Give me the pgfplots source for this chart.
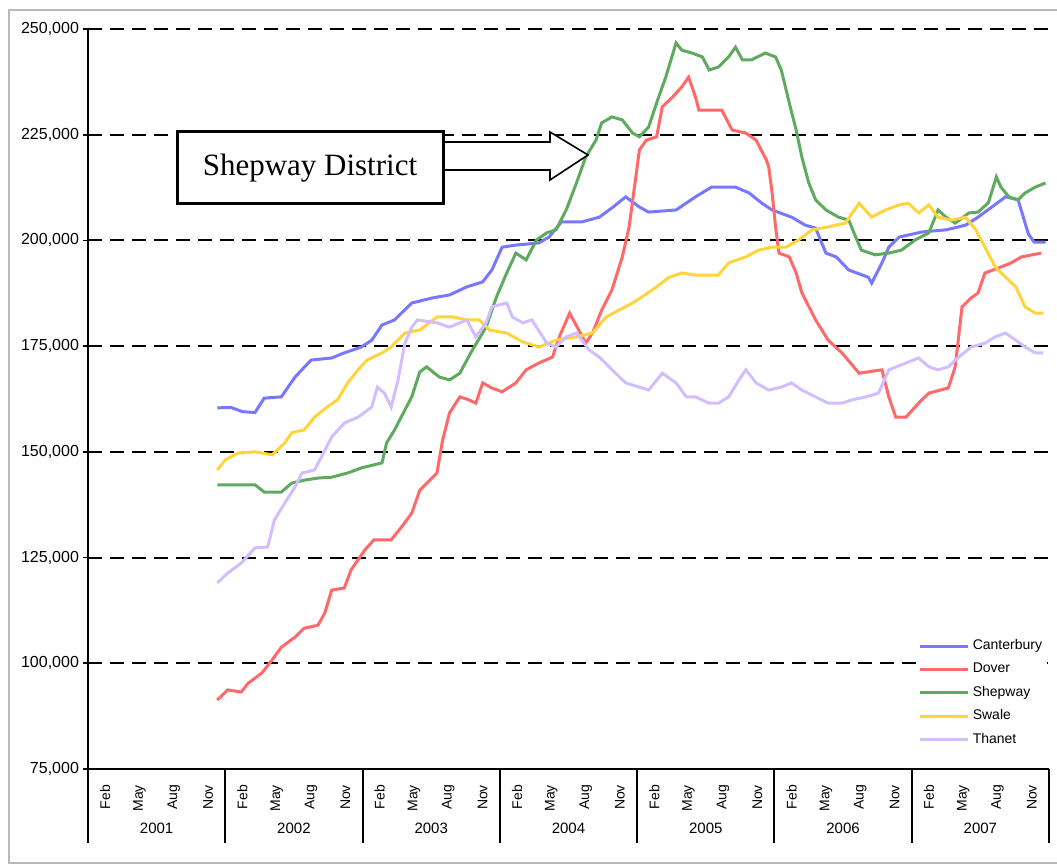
\documentclass[border=0pt]{standalone}
\usepackage{pgfplots}
\pgfplotsset{compat=1.18}
\usepackage{fontspec}
\setmainfont{Liberation Sans}
\newfontfamily\seriffont{Liberation Serif}
\definecolor{cant}{RGB}{120,120,255}
\definecolor{dove}{RGB}{255,105,105}
\definecolor{shep}{RGB}{95,170,95}
\definecolor{swal}{RGB}{255,212,60}
\definecolor{than}{RGB}{210,190,255}
\begin{document}
\begin{tikzpicture}
\begin{axis}[
  width=480.5pt, height=370pt, scale only axis,
  xmin=0.5, xmax=84.5, ymin=75000, ymax=250000,
  axis lines*=left,
  axis line style={line width=1pt, black},
  ytick={75000,100000,125000,150000,175000,200000,225000,250000},
  scaled y ticks=false,
  /pgf/number format/fixed,
  /pgf/number format/1000 sep={,},
  /pgf/number format/assume math mode=true,
  y tick label style={font=\fontsize{8}{9}\selectfont, xshift=1.5pt},
  xtick={2,5,8,11,14,17,20,23,26,29,32,35,38,41,44,47,50,53,56,59,62,65,68,71,74,77,80,83},
  xticklabels={Feb,May,Aug,Nov,Feb,May,Aug,Nov,Feb,May,Aug,Nov,Feb,May,Aug,Nov,Feb,May,Aug,Nov,Feb,May,Aug,Nov,Feb,May,Aug,Nov},
  x tick label style={rotate=90, anchor=east, font=\fontsize{7}{8}\selectfont, xshift=-2pt},
  xtick style={draw=none},
  ytick style={black, line width=0.8pt},
  tick align=center, major tick length=5pt,
  ymajorgrids,
  grid style={black, line width=1pt, dash pattern=on 7pt off 4pt},
  clip=false,
  legend style={at={(rel axis cs:0.862,0.182)}, anchor=north west, draw=none, fill=white,
    font=\fontsize{7}{8}\selectfont, row sep=2.2pt, inner sep=1pt, nodes={inner sep=1.5pt}},
  legend cell align=left,
  legend image code/.code={\draw[#1] (0pt,0pt) -- (24pt,0pt);},
  every axis plot/.append style={line width=1.5pt},
]
\addplot[cant] coordinates {(11.8,160400)(13,160500)(14,159500)(15.1,159300)(15.9,162700)(17.4,163000)(18.6,167700)(20.0,171700)(21.8,172200)(22.9,173400)(24.4,174800)(25.3,176400)(26.2,180000)(27.3,181200)(28.8,185200)(30.6,186400)(32.1,187100)(33.6,189000)(35.0,190200)(35.8,193000)(36.7,198400)(37.9,198900)(39.9,199400)(40.8,200800)(41.9,204400)(43.7,204400)(45.2,205500)(46.3,207700)(47.5,210300)(48.7,207900)(49.5,206700)(51.9,207200)(53.6,210300)(55.0,212600)(57.1,212600)(58.3,211200)(59.4,208800)(60.3,207200)(62.0,205500)(63.2,203600)(64.1,202900)(65.0,197000)(65.9,196100)(67.0,193000)(68.7,191300)(69.0,189900)(69.9,194700)(70.5,198400)(71.4,200800)(73.4,202000)(75.5,202500)(77.2,203600)(78.3,205500)(79.5,207900)(80.7,210300)(81.8,209600)(82.2,206000)(82.7,201500)(83.2,199600)(84.2,199600)};
\addlegendentry{Canterbury}
\addplot[dove] coordinates {(11.8,91300)(12.7,93700)(13.9,93200)(14.5,95300)(15.7,97700)(16.6,100800)(17.4,103800)(18.6,106200)(19.4,108300)(20.6,109000)(21.2,111900)(21.8,117300)(22.9,117800)(23.5,122100)(24.7,126800)(25.5,129200)(27.0,129200)(27.9,132200)(28.8,135500)(29.5,140900)(31.0,145000)(31.5,152800)(32.1,159200)(33.0,163000)(33.8,162300)(34.4,161500)(35.0,166300)(35.8,165100)(36.7,164200)(37.9,166300)(38.8,169400)(39.9,171000)(41.1,172400)(41.7,177200)(42.6,182800)(43.4,178800)(44.0,175700)(44.6,178100)(45.4,183500)(46.3,188300)(47.2,196100)(47.8,203200)(48.7,221400)(49.3,223700)(50.2,224500)(50.7,231600)(51.6,233900)(52.4,236300)(53.0,238600)(53.6,233900)(53.9,230800)(55.9,230800)(56.8,226100)(58.0,225400)(58.9,223700)(59.8,219000)(60.0,217400)(60.3,211200)(60.6,203200)(60.9,197000)(61.8,196100)(62.4,192300)(62.9,187600)(64.1,181200)(65.2,176400)(66.4,173400)(67.9,168600)(69.9,169400)(70.5,163000)(71.1,158200)(72.0,158200)(73.1,161500)(74.0,163900)(75.7,165100)(76.3,170100)(76.9,184300)(77.7,186400)(78.3,187600)(78.9,192300)(80.1,193500)(81.2,194700)(82.1,196100)(83.8,197000)};
\addlegendentry{Dover}
\addplot[shep] coordinates {(11.8,142200)(13.1,142200)(15.1,142200)(15.9,140500)(17.4,140500)(18.3,142600)(19.4,143300)(20.6,143800)(21.8,144000)(23.2,145000)(24.4,146200)(26.2,147400)(26.6,152100)(27.3,155200)(28.2,159900)(28.8,163000)(29.5,168900)(30.1,170100)(31.2,167700)(32.1,167000)(33.0,168600)(34.1,174100)(35.3,179500)(36.2,186600)(37.1,192300)(37.9,197000)(38.8,195400)(39.7,200100)(40.6,201800)(41.4,202500)(42.3,207200)(43.2,213600)(44.0,219700)(44.9,223700)(45.4,227800)(46.3,229200)(47.2,228500)(48.1,225400)(48.7,224500)(49.5,226800)(50.2,232500)(51.0,238600)(51.9,246700)(52.4,245000)(53.3,244300)(54.2,243400)(54.8,240300)(55.6,241000)(56.5,243400)(57.1,245700)(57.7,242700)(58.5,242700)(59.7,244300)(60.6,243400)(61.1,240300)(61.8,232500)(62.4,226100)(62.9,219700)(63.5,213600)(64.1,209600)(65.0,207200)(66.1,205500)(67.0,204800)(67.6,200800)(68.1,197700)(69.3,196600)(70.5,197000)(71.6,197700)(72.8,200100)(74.0,201800)(74.8,207200)(75.5,205500)(76.3,204100)(77.5,206500)(78.3,206700)(79.2,208900)(79.9,215000)(80.3,212600)(81.0,210300)(81.8,209600)(82.4,211200)(83.3,212600)(84.2,213600)};
\addlegendentry{Shepway}
\addplot[swal] coordinates {(11.8,145700)(12.5,148100)(13.6,149700)(15.1,150000)(16.6,149300)(17.7,152100)(18.3,154500)(19.4,155200)(20.3,158200)(21.4,160600)(22.3,162300)(23.2,166300)(24.1,169400)(24.9,171700)(26.2,173400)(27.0,174800)(28.2,178100)(29.5,178800)(31.0,181900)(32.4,181900)(33.6,181200)(34.7,181200)(35.6,178800)(37.1,178100)(38.5,176000)(39.9,174800)(41.4,176400)(43.2,177200)(44.6,178100)(45.8,181900)(46.9,183500)(48.1,185200)(48.9,186600)(50.2,189000)(51.3,191300)(52.4,192300)(53.6,191800)(55.6,191800)(56.5,194700)(58.0,196100)(59.1,197700)(60.3,198400)(61.5,198400)(62.6,200100)(63.8,202500)(65.2,203200)(66.7,204100)(67.9,208800)(69.0,205500)(70.2,207200)(71.4,208400)(72.2,208800)(73.1,206500)(74.0,208400)(74.8,205500)(76.0,204800)(77.2,205500)(78.1,202500)(78.9,198400)(79.8,193700)(80.7,191300)(81.6,189000)(82.4,184300)(83.3,182800)(84.0,182800)};
\addlegendentry{Swale}
\addplot[than] coordinates {(11.8,119000)(12.7,121300)(13.9,123700)(15.1,127300)(16.2,127500)(16.8,133900)(17.7,137900)(18.6,141700)(19.2,145000)(20.3,145700)(20.9,148800)(21.8,153500)(22.9,156800)(24.1,158200)(25.3,160600)(25.8,165300)(26.4,163900)(27.0,160600)(27.6,167000)(28.2,175700)(28.8,179500)(29.3,181200)(31.0,180500)(32.1,179500)(33.6,181200)(34.4,177200)(35.3,180500)(35.8,184300)(37.1,185200)(37.6,181900)(38.5,180500)(39.3,181200)(40.6,175700)(41.4,174800)(42.3,177200)(43.2,178100)(44.3,174100)(45.2,172400)(46.3,169400)(47.5,166300)(48.7,165300)(49.5,164600)(50.7,168600)(51.9,166300)(52.8,163000)(53.6,163000)(54.8,161500)(55.6,161500)(56.5,163000)(57.4,167000)(58.0,169400)(58.9,166300)(60.0,164600)(61.1,165300)(62.0,166300)(62.9,164600)(64.1,163000)(65.2,161500)(66.4,161500)(67.3,162300)(68.5,163000)(69.6,163900)(70.5,169400)(72.0,171000)(73.1,172200)(74.0,170100)(74.8,169400)(75.7,170100)(76.6,172400)(77.7,174800)(78.9,175700)(79.8,177200)(80.7,178100)(81.6,176400)(82.4,174800)(83.3,173400)(84.0,173400)};
\addlegendentry{Thanet}
% year separators and axis extension
\draw[line width=1pt] (axis cs:0.5,75000) -- ++(0pt,-37pt);
\draw[line width=1pt] (axis cs:12.5,75000) -- ++(0pt,-37pt);
\draw[line width=1pt] (axis cs:24.5,75000) -- ++(0pt,-37pt);
\draw[line width=1pt] (axis cs:36.5,75000) -- ++(0pt,-37pt);
\draw[line width=1pt] (axis cs:48.5,75000) -- ++(0pt,-37pt);
\draw[line width=1pt] (axis cs:60.5,75000) -- ++(0pt,-37pt);
\draw[line width=1pt] (axis cs:72.5,75000) -- ++(0pt,-37pt);
\draw[line width=1pt] (axis cs:84.5,75000) -- ++(0pt,-37pt);
\node[font=\fontsize{7.5}{8}\selectfont, yshift=-29.5pt] at (axis cs:6.5,75000) {2001};
\node[font=\fontsize{7.5}{8}\selectfont, yshift=-29.5pt] at (axis cs:18.5,75000) {2002};
\node[font=\fontsize{7.5}{8}\selectfont, yshift=-29.5pt] at (axis cs:30.5,75000) {2003};
\node[font=\fontsize{7.5}{8}\selectfont, yshift=-29.5pt] at (axis cs:42.5,75000) {2004};
\node[font=\fontsize{7.5}{8}\selectfont, yshift=-29.5pt] at (axis cs:54.5,75000) {2005};
\node[font=\fontsize{7.5}{8}\selectfont, yshift=-29.5pt] at (axis cs:66.5,75000) {2006};
\node[font=\fontsize{7.5}{8}\selectfont, yshift=-29.5pt] at (axis cs:78.5,75000) {2007};
\coordinate (bl) at (rel axis cs:0,0);
\end{axis}
\begin{scope}[shift={(bl)}, x=1pt, y=1pt, xshift=-44pt, yshift=-48pt]
\draw[gray!55, line width=1pt] (4.5,1) rectangle (540,427.5);
\draw[line width=0.8pt, fill=white] (221.5,361.5) -- (275,361.5) -- (275,366.5) -- (294,355) -- (275,342.5) -- (275,347.5) -- (221.5,347.5);
\draw[line width=1.5pt, fill=white] (88.5,330.5) rectangle (221.5,366.5);
\node[font=\seriffont\fontsize{15.5}{17}\selectfont] at (155,348.5) {Shepway District};
\end{scope}
\pgfresetboundingbox
\path[use as bounding box] ([shift={(-44pt,-48pt)}]bl) rectangle ([shift={(484.5pt,384.5pt)}]bl);
\end{tikzpicture}
\end{document}
